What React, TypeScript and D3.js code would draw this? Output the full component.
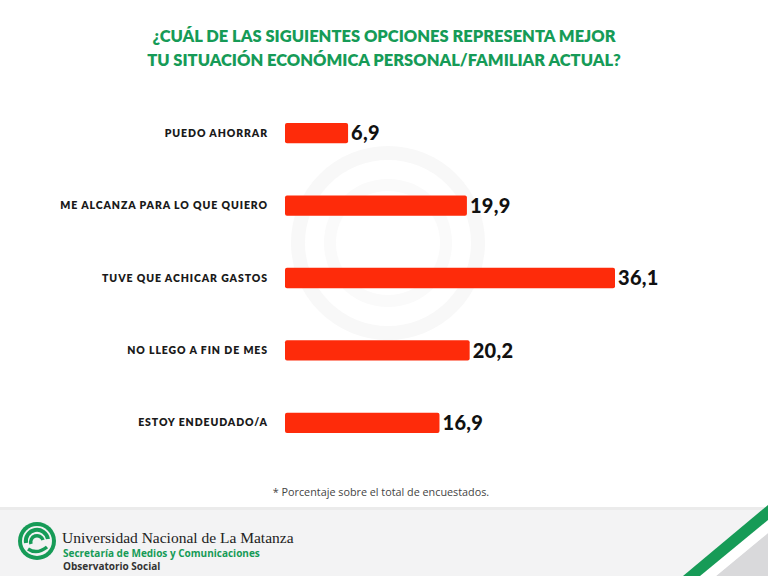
import React from "react";
import * as d3 from "d3";

const categories = [
  "PUEDO AHORRAR",
  "ME ALCANZA PARA LO QUE QUIERO",
  "TUVE QUE ACHICAR GASTOS",
  "NO LLEGO A FIN DE MES",
  "ESTOY ENDEUDADO/A",
];
const values = [6.9, 19.9, 36.1, 20.2, 16.9];
const titleLines = [
  "¿CUÁL DE LAS SIGUIENTES OPCIONES REPRESENTA MEJOR",
  "TU SITUACIÓN ECONÓMICA PERSONAL/FAMILIAR ACTUAL?",
];
const footnote = "* Porcentaje sobre el total de encuestados.";

const W = 768;
const H = 576;
const GREEN = "#169b57";

export default function App() {
  const x = d3.scaleLinear().domain([0, 36.1]).range([285, 615]);
  const y = d3
    .scaleBand<string>()
    .domain(categories)
    .range([97, 459])
    .paddingInner(0.72)
    .paddingOuter(0.36);
  const fmt = (v: number) => v.toFixed(1).replace(".", ",");
  const bh = y.bandwidth();

  return (
    <svg
      width={W}
      height={H}
      style={{ position: "absolute", left: 0, top: 0 }}
      fontFamily="'Open Sans', 'DejaVu Sans', sans-serif"
    >
      <rect x={0} y={0} width={W} height={H} fill="#ffffff" />
      {/* watermark */}
      <circle cx={388} cy={243} r={90} fill="none" stroke="#f8f8f8" strokeWidth={14} />
      <circle cx={388} cy={243} r={58} fill="none" stroke="#fafafa" strokeWidth={12} />
      {/* title */}
      {titleLines.map((t, i) => (
        <text
          key={i}
          x={384}
          y={42 + i * 24}
          textAnchor="middle"
          fill={GREEN}
          fontSize={16.5}
          fontWeight={800}
          fontFamily="Lato, 'Open Sans', sans-serif"
        >
          {t}
        </text>
      ))}
      {/* bars */}
      {categories.map((c, i) => {
        const yy = y(c)!;
        return (
          <g key={c}>
            <text
              x={268}
              y={yy + bh / 2}
              dy="0.35em"
              textAnchor="end"
              fontSize={10.5}
              fontWeight={800}
              fill="#1a1a1a"
              fontFamily="Lato, 'Open Sans', sans-serif"
              letterSpacing={0.9}
            >
              {c}
            </text>
            <rect
              x={x(0)}
              y={yy}
              width={x(values[i]) - x(0)}
              height={bh}
              rx={2}
              fill="#fe2b0a"
            />
            <text
              x={x(values[i]) + 3}
              y={yy + bh / 2}
              dy="0.36em"
              fontSize={20}
              fontWeight={900}
              fill="#111111"
              fontFamily="Lato, 'Open Sans', sans-serif"
              letterSpacing={0.3}
            >
              {fmt(values[i])}
            </text>
          </g>
        );
      })}
      {/* footnote */}
      <text
        x={381}
        y={496}
        textAnchor="middle"
        fontSize={10.8}
        fill="#444444"
        fontFamily="'Open Sans', sans-serif"
      >
        {footnote}
      </text>
      {/* footer band */}
      <rect x={0} y={507} width={W} height={H - 507} fill="#f3f3f4" />
      <rect x={0} y={507} width={W} height={3} fill="#ebebeb" />
      {/* corner stripes */}
      <polygon points="716,576 768,533 768,576" fill="#d9d9db" />
      <polygon points="700,576 768,520 768,533 716,576" fill="#ffffff" />
      <polygon points="683,576 768,505 768,520 700,576" fill={GREEN} />
      {/* logo */}
      <g transform="translate(37,541)">
        <circle r={19} fill={GREEN} />
        <circle r={15} fill="#f3f3f4" />
        <path d="M -11 2 A 11 11 0 0 1 11 -2" fill="none" stroke={GREEN} strokeWidth={4} />
        <path d="M -6 3 A 6 6 0 0 1 6 -1" fill="none" stroke={GREEN} strokeWidth={3.5} />
        <path d="M -9 8 Q 0 14 10 6" fill="none" stroke={GREEN} strokeWidth={3.5} />
      </g>
      <text
        x={62}
        y={543}
        fontSize={15.5}
        fill="#222222"
        fontFamily="'Liberation Serif', 'DejaVu Serif', serif"
      >
        Universidad Nacional de La Matanza
      </text>
      <text
        x={63}
        y={557}
        fontSize={10}
        fontWeight={700}
        fill={GREEN}
        fontFamily="'Open Sans', sans-serif"
      >
        Secretaría de Medios y Comunicaciones
      </text>
      <text
        x={63}
        y={570}
        fontSize={10}
        fontWeight={700}
        fill="#333333"
        fontFamily="'Open Sans', sans-serif"
      >
        Observatorio Social
      </text>
    </svg>
  );
}
